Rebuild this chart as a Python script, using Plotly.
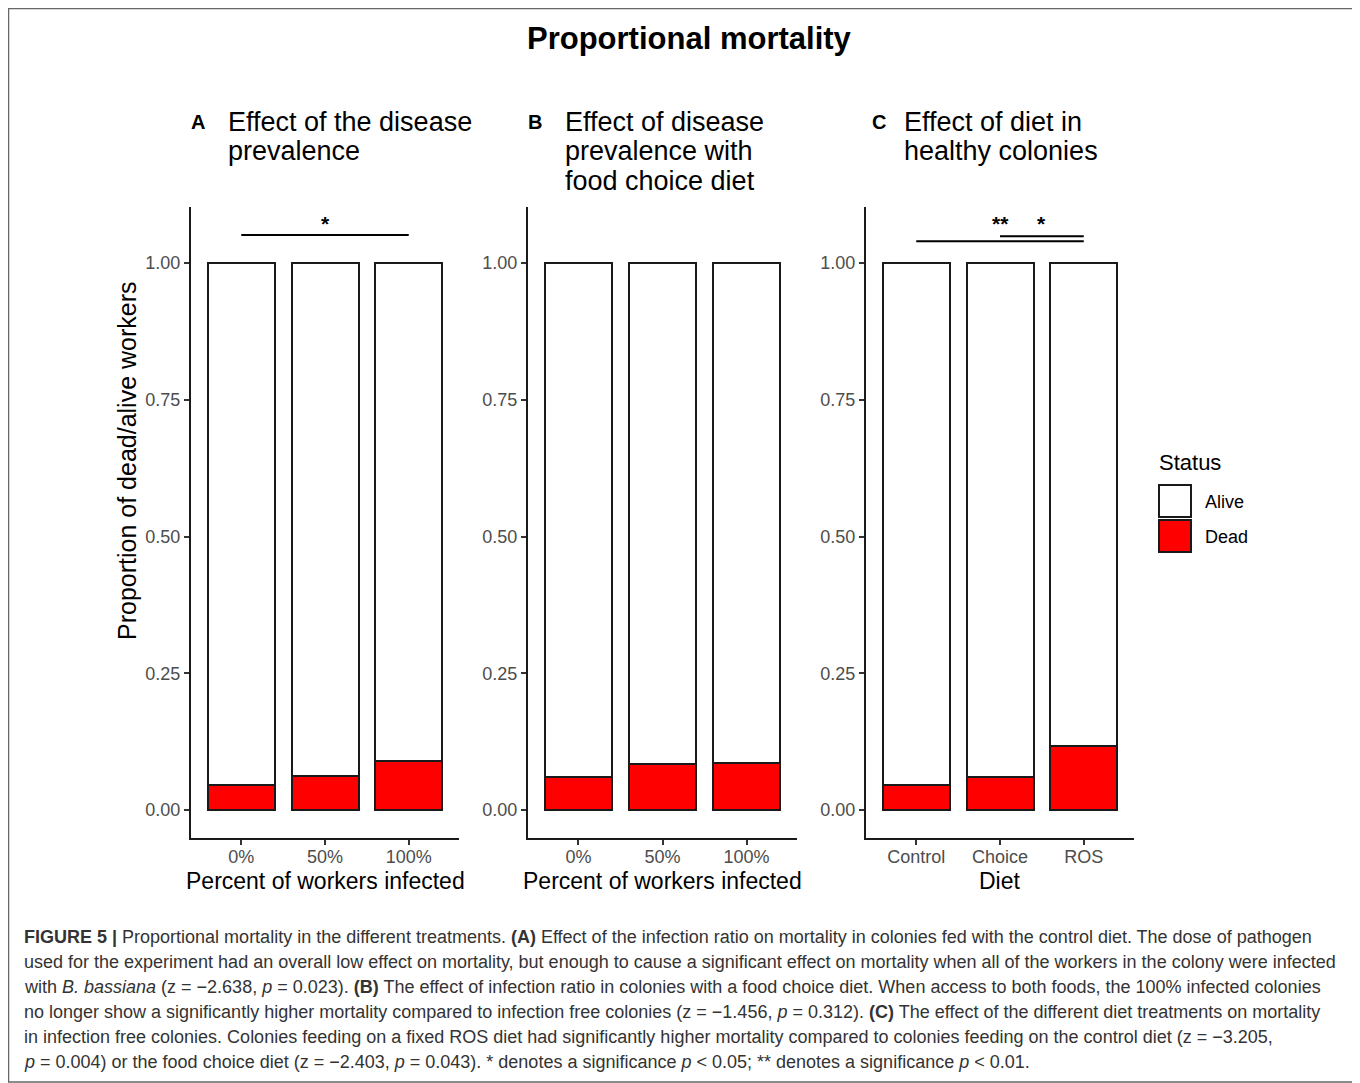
import plotly.graph_objects as go

# page body has an 8px margin, so the figure is placed at (8, 8)
OFF = 8
W, H = 1352, 1075

# ---------------- data ----------------
cat_A = ["0%", "50%", "100%"]
cat_B = ["0%", "50%", "100%"]
cat_C = ["Control", "Choice", "ROS"]
dead_A = [0.046, 0.063, 0.090]
dead_B = [0.061, 0.084, 0.086]
dead_C = [0.046, 0.061, 0.117]
alive_A = [1 - v for v in dead_A]
alive_B = [1 - v for v in dead_B]
alive_C = [1 - v for v in dead_C]
y_ticks = [0.0, 0.25, 0.5, 0.75, 1.0]
y_tick_labels = ["0.00", "0.25", "0.50", "0.75", "1.00"]
panel_letters = ["A", "B", "C"]
panel_titles = [["Effect of the disease", "prevalence"],
                ["Effect of disease", "prevalence with", "food choice diet"],
                ["Effect of diet in", "healthy colonies"]]
x_titles = ["Percent of workers infected", "Percent of workers infected", "Diet"]
sig_A = [("0%", "100%", 1.051, "*", "50%")]
sig_C_lines = [("Control", "ROS", 1.040), ("Choice", "ROS", 1.049)]
sig_C_labels = [("Choice", "**", 0.0), ("ROS", "*", -0.5)]
legend_items = ["Alive", "Dead"]
legend_colors = ["#FFFFFF", "#FF0000"]

# ---------------- layout helpers ----------------
def px(x):
    return (x - OFF) / W

def py(y):
    return 1 - (y - OFF) / H

x_domains = [[px(191), px(459)], [px(528), px(797)], [px(866), px(1134)]]
y_domain = [py(838), py(207)]
y_range = [-0.0512, 1.1024]

fig = go.Figure()
cats = [cat_A, cat_B, cat_C]
deads = [dead_A, dead_B, dead_C]
alives = [alive_A, alive_B, alive_C]
for i in range(3):
    xa = "x" if i == 0 else f"x{i+1}"
    ya = "y" if i == 0 else f"y{i+1}"
    fig.add_trace(go.Bar(x=cats[i], y=deads[i], xaxis=xa, yaxis=ya, width=0.8,
                         marker=dict(color="#FF0000", line=dict(color="#1a1a1a", width=2)),
                         name="Dead", showlegend=False))
    fig.add_trace(go.Bar(x=cats[i], y=alives[i], xaxis=xa, yaxis=ya, width=0.8,
                         marker=dict(color="#FFFFFF", line=dict(color="#1a1a1a", width=2)),
                         name="Alive", showlegend=False))

axis_font = dict(family="Liberation Sans, Arial, sans-serif", size=18, color="#4d4d4d")
layout = dict(
    width=W, height=H, margin=dict(l=0, r=0, t=0, b=0),
    paper_bgcolor="white", plot_bgcolor="white", barmode="stack", bargap=0.2,
    font=dict(family="Liberation Sans, Arial, sans-serif", color="black"),
    showlegend=False,
)
for i in range(3):
    sx = "" if i == 0 else str(i + 1)
    layout["xaxis" + sx] = dict(
        domain=x_domains[i], anchor="y" + sx, type="category", categoryorder="array",
        categoryarray=cats[i], range=[-0.6, 2.6], showline=True, linecolor="#1a1a1a",
        linewidth=2, ticks="outside", ticklen=5, tickwidth=1.5, tickcolor="#333333",
        tickfont=axis_font, ticklabelstandoff=-4, showgrid=False, zeroline=False,
        fixedrange=True)
    layout["yaxis" + sx] = dict(
        domain=y_domain, anchor="x" + sx, range=y_range, tickvals=y_ticks,
        ticktext=y_tick_labels, showline=True, linecolor="#1a1a1a", linewidth=2,
        ticks="outside", ticklen=5, tickwidth=1.5, tickcolor="#333333",
        tickfont=axis_font, showgrid=False, zeroline=False, fixedrange=True)
fig.update_layout(**layout)

ann = []
shapes = []
# figure frame
shapes.append(dict(type="rect", xref="paper", yref="paper", x0=px(8.5), x1=px(1357),
                   y0=py(1082), y1=py(8.5), line=dict(color="#666666", width=1.5)))
# main title
ann.append(dict(text="<b>Proportional mortality</b>", x=px(689), y=py(38), xref="paper",
                yref="paper", showarrow=False, xanchor="center", yanchor="middle",
                font=dict(size=31, color="black")))
# panel titles
letter_x = [198, 535, 879]
title_x = [226, 563, 902]
for i in range(3):
    ann.append(dict(text=f"<b>{panel_letters[i]}</b>", x=px(letter_x[i]), y=py(122),
                    xref="paper", yref="paper", showarrow=False, xanchor="center",
                    yanchor="middle", font=dict(size=20, color="black")))
    for j, line in enumerate(panel_titles[i]):
        ann.append(dict(text=line, x=px(title_x[i]), y=py(122 + 29.5 * j), xref="paper",
                        yref="paper", showarrow=False, xanchor="left", yanchor="middle",
                        font=dict(size=27, color="black")))
    cx = (x_domains[i][0] + x_domains[i][1]) / 2
    ann.append(dict(text=x_titles[i], x=cx, y=py(881), xref="paper", yref="paper",
                    showarrow=False, xanchor="center", yanchor="middle",
                    font=dict(size=23, color="black")))
# y axis title
ann.append(dict(text="Proportion of dead/alive workers", x=px(127), y=py(461), xref="paper",
                yref="paper", showarrow=False, textangle=-90, xanchor="center",
                yanchor="middle", font=dict(size=25, color="black")))

# significance brackets
for a, b, lvl, lab, lx in sig_A:
    shapes.append(dict(type="line", xref="x", yref="y", x0=a, x1=b, y0=lvl, y1=lvl,
                       line=dict(color="black", width=2)))
    ann.append(dict(text="<b>" + lab + "</b>", x=lx, y=1.072, xref="x", yref="y",
                    showarrow=False, xanchor="center", yanchor="middle",
                    font=dict(size=21, color="black")))
for a, b, lvl in sig_C_lines:
    shapes.append(dict(type="line", xref="x3", yref="y3", x0=a, x1=b, y0=lvl, y1=lvl,
                       line=dict(color="black", width=2)))
for lx, lab, shift in sig_C_labels:
    ann.append(dict(text="<b>" + lab + "</b>", x=lx, y=1.072, xref="x3", yref="y3",
                    xshift=shift * 84, showarrow=False, xanchor="center", yanchor="middle",
                    font=dict(size=21, color="black")))

# legend
ann.append(dict(text="Status", x=px(1157), y=py(462), xref="paper", yref="paper",
                showarrow=False, xanchor="left", yanchor="middle",
                font=dict(size=22, color="black")))
for k, (lab, col) in enumerate(zip(legend_items, legend_colors)):
    top = 485 + 35 * k
    shapes.append(dict(type="rect", xref="paper", yref="paper", x0=px(1159), x1=px(1191),
                       y0=py(top + 32), y1=py(top), fillcolor=col,
                       line=dict(color="#1a1a1a", width=2)))
    ann.append(dict(text=lab, x=px(1203), y=py(top + 17), xref="paper", yref="paper",
                    showarrow=False, xanchor="left", yanchor="middle",
                    font=dict(size=18, color="black")))

# caption
caption = [
    "<b>FIGURE 5 |</b> Proportional mortality in the different treatments. <b>(A)</b> Effect of the infection ratio on mortality in colonies fed with the control diet. The dose of pathogen",
    "used for the experiment had an overall low effect on mortality, but enough to cause a significant effect on mortality when all of the workers in the colony were infected",
    "with <i>B. bassiana</i> (z = −2.638, <i>p</i> = 0.023). <b>(B)</b> The effect of infection ratio in colonies with a food choice diet. When access to both foods, the 100% infected colonies",
    "no longer show a significantly higher mortality compared to infection free colonies (z = −1.456, <i>p</i> = 0.312). <b>(C)</b> The effect of the different diet treatments on mortality",
    "in infection free colonies. Colonies feeding on a fixed ROS diet had significantly higher mortality compared to colonies feeding on the control diet (z = −3.205,",
    "<i>p</i> = 0.004) or the food choice diet (z = −2.403, <i>p</i> = 0.043). * denotes a significance <i>p</i> &lt; 0.05; ** denotes a significance <i>p</i> &lt; 0.01.",
]
for k, line in enumerate(caption):
    ann.append(dict(text=line, x=px(22), y=py(937 + 25 * k), xref="paper", yref="paper",
                    showarrow=False, xanchor="left", yanchor="middle",
                    font=dict(size=18, color="#333333")))

fig.update_layout(annotations=ann, shapes=shapes)
fig.write_html("out.html", config={"displayModeBar": False})
